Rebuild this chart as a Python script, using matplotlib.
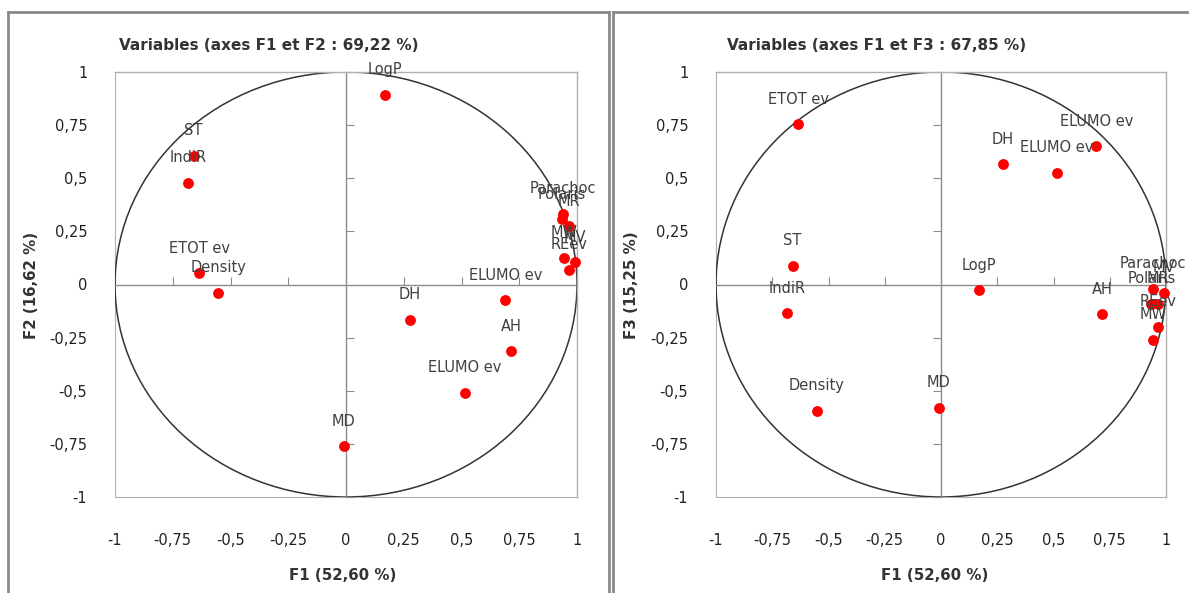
import matplotlib
matplotlib.use("Agg")
import matplotlib.pyplot as plt
from matplotlib.patches import Circle
from matplotlib.lines import Line2D

# variables and coordinates on the factors
noms = ['LogP', 'ST', 'IndiR', 'ETOT ev', 'Density', 'DH', 'ELUMO ev', 'AH', 'ELUMO ev', 'MD',
        'Parachoc', 'Polaris', 'MR', 'MW', 'MV', 'REev']
f1 = [0.17, -0.66, -0.685, -0.635, -0.552, 0.275, 0.69, 0.716, 0.515, -0.01,
      0.94, 0.935, 0.965, 0.943, 0.99, 0.965]
f2 = [0.894, 0.607, 0.48, 0.052, -0.038, -0.165, -0.075, -0.315, -0.51, -0.76,
      0.334, 0.306, 0.273, 0.127, 0.105, 0.07]
f3 = [-0.028, 0.089, -0.136, 0.753, -0.593, 0.565, 0.65, -0.14, 0.527, -0.579,
      -0.02, -0.09, -0.09, -0.26, -0.04, -0.20]

ticks = [-1, -0.75, -0.5, -0.25, 0, 0.25, 0.5, 0.75, 1]
tick_labels = ['-1', '-0,75', '-0,5', '-0,25', '0', '0,25', '0,5', '0,75', '1']

narrow = ['Liberation Sans Narrow', 'DejaVu Sans']

fig = plt.figure(figsize=(11.89, 5.93), dpi=100)

def panneau(rect, y, titre, ylab, titre_x, xlab_x, ylab_x, ydir):
    ax = fig.add_axes(rect)
    ax.set_xlim(-1, 1)
    ax.set_ylim(-1, 1)
    # axes crossing at zero, with tick marks but no labels
    ax.spines['left'].set_position(('data', 0))
    ax.spines['bottom'].set_position(('data', 0))
    for s in ['left', 'bottom']:
        ax.spines[s].set_color('#8c8c8c')
        ax.spines[s].set_linewidth(1)
    for s in ['top', 'right']:
        ax.spines[s].set_color('#b0b0b0')
        ax.spines[s].set_linewidth(1)
    ax.set_xticks([t for t in ticks if t != 0])
    ax.set_yticks([t for t in ticks if t != 0])
    ax.tick_params(axis='x', direction='in', length=6, color='#8c8c8c', labelbottom=False)
    ax.tick_params(axis='y', direction=ydir, length=6, color='#8c8c8c', labelleft=False)

    # tick labels on the plot-area edges
    sx = ax.secondary_xaxis('bottom')
    sx.set_xticks(ticks)
    sx.set_xticklabels(tick_labels, family=narrow, fontsize=10.5, color='#222222')
    sx.tick_params(length=0, pad=26)
    sx.spines['bottom'].set_color('#b0b0b0')
    sy = ax.secondary_yaxis('left')
    sy.set_yticks(ticks)
    sy.set_yticklabels(tick_labels, family=narrow, fontsize=10.5, color='#222222')
    sy.tick_params(length=0, pad=20)
    sy.spines['left'].set_color('#b0b0b0')

    ax.add_patch(Circle((0, 0), 1, fill=False, edgecolor='#333333', lw=1.1, zorder=2))
    ax.scatter(f1, y, s=46, color='#ff0000', zorder=4, clip_on=False)
    for n, a, b in zip(noms, f1, y):
        ax.annotate(n, (a, b), xytext=(0, 18), textcoords='offset points',
                    ha='center', va='center', fontsize=10.5, color='#404040',
                    zorder=5, annotation_clip=False)

    fig.text(titre_x, 1 - 45 / 593, titre, ha='center', va='center',
             family=narrow, fontsize=11, fontweight='bold', color='#333333')
    fig.text(xlab_x, 1 - 576 / 593, 'F1 (52,60 %)', ha='center', va='center',
             family=narrow, fontsize=10.8, fontweight='bold', color='#333333')
    fig.text(ylab_x, 1 - 285 / 593, ylab, ha='center', va='center', rotation=90,
             family=narrow, fontsize=10.8, fontweight='bold', color='#333333')
    return ax

panneau([115 / 1189, 1 - 497 / 593, 462 / 1189, 425 / 593], f2,
        'Variables (axes F1 et F2 : 69,22 %)', 'F2 (16,62 %)',
        269 / 1189, 343 / 1189, 32 / 1189, 'in')
panneau([716 / 1189, 1 - 497 / 593, 450 / 1189, 425 / 593], f3,
        'Variables (axes F1 et F3 : 67,85 %)', 'F3 (15,25 %)',
        877 / 1189, 935 / 1189, 632 / 1189, 'out')

# chart frames
cadre = dict(color='#8a8a8a', lw=2, transform=fig.transFigure)
fig.add_artist(Line2D([8 / 1189, 8 / 1189], [0, 1 - 12 / 593], **cadre))
fig.add_artist(Line2D([8 / 1189, 609 / 1189], [1 - 12 / 593, 1 - 12 / 593], **cadre))
fig.add_artist(Line2D([609 / 1189, 609 / 1189], [0, 1 - 12 / 593], **cadre))
fig.add_artist(Line2D([613 / 1189, 613 / 1189], [0, 1 - 12 / 593], **cadre))
fig.add_artist(Line2D([613 / 1189, 1], [1 - 12 / 593, 1 - 12 / 593], **cadre))

fig.savefig('out.png', dpi=100)
